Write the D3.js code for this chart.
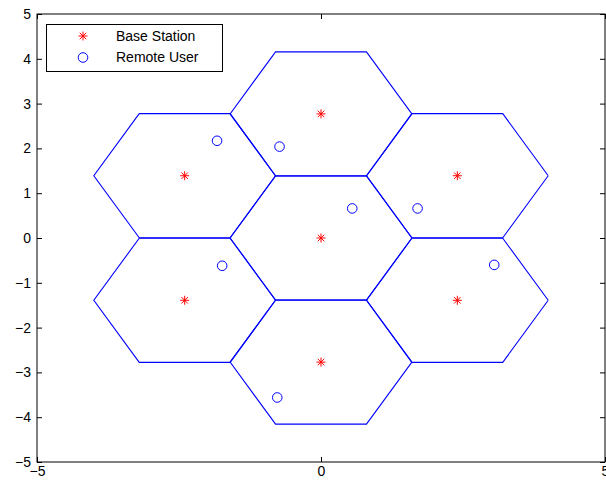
<!DOCTYPE html>
<html><head><meta charset="utf-8">
<script src="https://cdn.jsdelivr.net/npm/d3@7"></script>
<style>body{margin:0;background:#fff;} svg{display:block;}</style>
</head><body>
<script>
const baseX = [0, 0, 2.4, 2.4, 0, -2.4, -2.4];
const baseY = [0, 2.77, 1.39, -1.39, -2.77, -1.39, 1.39];
const userX = [-1.83, -0.73, 0.55, 1.70, 3.05, -1.74, -0.77];
const userY = [2.17, 2.04, 0.66, 0.66, -0.60, -0.62, -3.56];
const cellRadius = 1.6;
const xTicks = [-5, 0, 5];
const yTicks = [-5, -4, -3, -2, -1, 0, 1, 2, 3, 4, 5];
const legendLabels = ["Base Station", "Remote User"];

const W = 606, H = 484;
const L = 37, R = 605, T = 14, B = 462;
const svg = d3.select("body").append("svg").attr("width", W).attr("height", H);
const x = d3.scaleLinear().domain([-5, 5]).range([L, R]);
const y = d3.scaleLinear().domain([-5, 5]).range([B, T]);
const font = "'Liberation Sans', Arial, sans-serif";
const minus = d => String(d).replace("-", "\u2212");

// hexagon cells
const hexPts = (cx, cy) => d3.range(7).map(i => {
  const a = Math.PI / 3 * i;
  return [x(cx + cellRadius * Math.cos(a)), y(cy + cellRadius * Math.sin(a))];
});
svg.append("g").selectAll("path").data(baseX.map((d, i) => [d, baseY[i]])).join("path")
  .attr("d", d => d3.line()(hexPts(d[0], d[1])))
  .attr("fill", "none").attr("stroke", "#0000ff").attr("stroke-width", 1.1);

// axes
const fmt = d => minus(d);
const gl = svg.append("g").attr("transform", `translate(${L},0)`)
  .call(d3.axisLeft(y).tickValues(yTicks).tickFormat(fmt).tickSizeInner(-5).tickSizeOuter(0).tickPadding(6));
const gr = svg.append("g").attr("transform", `translate(${R},0)`)
  .call(d3.axisRight(y).tickValues(yTicks).tickFormat("").tickSizeInner(-5).tickSizeOuter(0));
const gb = svg.append("g").attr("transform", `translate(0,${B})`)
  .call(d3.axisBottom(x).tickValues(xTicks).tickFormat(fmt).tickSizeInner(-5).tickSizeOuter(0).tickPadding(4));
const gt = svg.append("g").attr("transform", `translate(0,${T})`)
  .call(d3.axisTop(x).tickValues(xTicks).tickFormat("").tickSizeInner(-5).tickSizeOuter(0));
[gl, gr, gb, gt].forEach(g => {
  g.selectAll(".domain").remove();
  g.selectAll("line").attr("stroke", "#000");
  g.selectAll("text").attr("font-family", font).attr("font-size", 14).attr("fill", "#000");
});
svg.append("rect").attr("x", L).attr("y", T).attr("width", R - L).attr("height", B - T)
  .attr("fill", "none").attr("stroke", "#000").attr("stroke-width", 1);

// markers
const star = (cx, cy, s) => {
  const d = s / 2, e = d * 0.72;
  return `M${cx - d},${cy}L${cx + d},${cy}M${cx},${cy - d}L${cx},${cy + d}` +
    `M${cx - e},${cy - e}L${cx + e},${cy + e}M${cx - e},${cy + e}L${cx + e},${cy - e}`;
};
svg.append("g").selectAll("path").data(baseX.map((d, i) => [d, baseY[i]])).join("path")
  .attr("d", d => star(x(d[0]), y(d[1]), 9))
  .attr("stroke", "#ff0000").attr("stroke-width", 1).attr("fill", "none");
svg.append("g").selectAll("circle").data(userX.map((d, i) => [d, userY[i]])).join("circle")
  .attr("cx", d => x(d[0])).attr("cy", d => y(d[1])).attr("r", 4.8)
  .attr("fill", "none").attr("stroke", "#0000ff").attr("stroke-width", 1);

// legend
const lg = svg.append("g");
lg.append("rect").attr("x", 46.5).attr("y", 24.5).attr("width", 176).attr("height", 47)
  .attr("fill", "#fff").attr("stroke", "#000").attr("stroke-width", 1);
const rowY = [36, 57.5];
lg.append("path").attr("d", star(83, rowY[0], 9)).attr("stroke", "#ff0000").attr("fill", "none");
lg.append("circle").attr("cx", 83).attr("cy", rowY[1]).attr("r", 4.8)
  .attr("fill", "none").attr("stroke", "#0000ff");
lg.selectAll("text").data(legendLabels).join("text")
  .attr("x", 116).attr("y", (d, i) => rowY[i]).attr("dy", "0.35em")
  .attr("font-family", font).attr("font-size", 14).text(d => d);
</script>
</body></html>
